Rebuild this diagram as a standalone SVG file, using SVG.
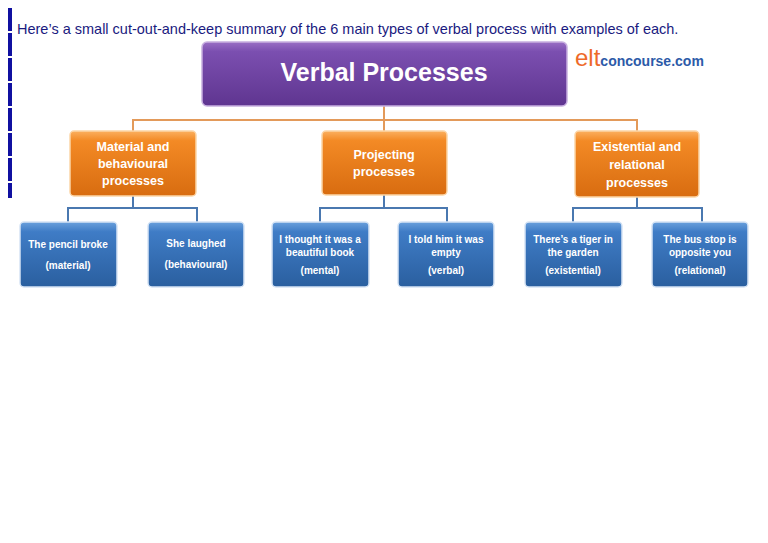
<svg xmlns="http://www.w3.org/2000/svg" width="768" height="543" viewBox="0 0 768 543">
<defs>
<linearGradient id="gp" x1="0" y1="0" x2="0" y2="1"><stop offset="0" stop-color="#9a6fc4"/><stop offset="0.15" stop-color="#7b4fb0"/><stop offset="1" stop-color="#5f3590"/></linearGradient>
<linearGradient id="go" x1="0" y1="0" x2="0" y2="1"><stop offset="0" stop-color="#fbb060"/><stop offset="0.15" stop-color="#f38a25"/><stop offset="1" stop-color="#d86c10"/></linearGradient>
<linearGradient id="gb" x1="0" y1="0" x2="0" y2="1"><stop offset="0" stop-color="#6aa0dc"/><stop offset="0.15" stop-color="#3f7cc6"/><stop offset="1" stop-color="#2a5f9f"/></linearGradient>
</defs>
<style>
text{font-family:"Liberation Sans Narrow","Liberation Sans",Arial,sans-serif;text-anchor:middle;fill:#fff;font-weight:bold}
.b{fill:url(#gb);stroke:#d6e4f5;stroke-width:1.5}
.o{fill:url(#go);stroke:#fcd6a8;stroke-width:1.5}
.bt{font-size:10px}
.ot{font-size:12.5px}
</style>
<rect width="768" height="543" fill="#fff"/>
<g id="bar" fill="#1010a0">
<rect x="8" y="8" width="4" height="23"/><rect x="8" y="33" width="4" height="23"/><rect x="8" y="58" width="4" height="23"/><rect x="8" y="83" width="4" height="23"/><rect x="8" y="108" width="4" height="23"/><rect x="8" y="133" width="4" height="23"/><rect x="8" y="158" width="4" height="23"/><rect x="8" y="183" width="4" height="15"/>
</g>
<text x="17" y="34" style="text-anchor:start;fill:#1a1a80;font-weight:normal;font-size:14.5px">Here’s a small cut-out-and-keep summary of the 6 main types of verbal process with examples of each.</text>
<g id="logo"><text x="575" y="66" style="text-anchor:start;font-weight:normal;font-size:24px;fill:#ee6a2a">elt<tspan style="font-size:14px;fill:#2c5aa8;font-weight:bold">concourse.com</tspan></text></g>
<g id="connectors" fill="none" stroke-width="2">
<path stroke="#e39a5a" d="M384 106V120M133 131V120H637V131M384 120V131"/>
<path stroke="#4a78b0" d="M133 196V208M68 222V208H197V222M384 195V208M320 222V208H447V222M637 197V208M573 222V208H702V222"/>
</g>
<g id="root"><rect x="202" y="42" width="365" height="64" rx="5" fill="url(#gp)" stroke="#c8b0e0" stroke-width="1.5"/><text x="384" y="81" style="font-size:25px">Verbal Processes</text></g>
<g id="material"><rect class="o" x="70" y="131" width="126" height="65" rx="4"/><text class="ot" x="133" y="151">Material and<tspan x="133" dy="17">behavioural</tspan><tspan x="133" dy="17">processes</tspan></text></g>
<g id="projecting"><rect class="o" x="322" y="131" width="125" height="64" rx="4"/><text class="ot" x="384" y="159">Projecting<tspan x="384" dy="17">processes</tspan></text></g>
<g id="existential"><rect class="o" x="575" y="131" width="124" height="66" rx="4"/><text class="ot" x="637" y="151">Existential and<tspan x="637" dy="18">relational</tspan><tspan x="637" dy="18">processes</tspan></text></g>
<g id="b1"><rect class="b" x="20" y="222" width="97" height="65" rx="4"/><text class="bt" x="68" y="248">The pencil broke<tspan x="68" dy="21">(material)</tspan></text></g>
<g id="b2"><rect class="b" x="148" y="222" width="96" height="65" rx="4"/><text class="bt" x="196" y="247">She laughed<tspan x="196" dy="21">(behavioural)</tspan></text></g>
<g id="b3"><rect class="b" x="272" y="222" width="97" height="65" rx="4"/><text class="bt" x="320" y="243">I thought it was a<tspan x="320" dy="13">beautiful book</tspan><tspan x="320" dy="18">(mental)</tspan></text></g>
<g id="b4"><rect class="b" x="398" y="222" width="96" height="65" rx="4"/><text class="bt" x="446" y="243">I told him it was<tspan x="446" dy="13">empty</tspan><tspan x="446" dy="18">(verbal)</tspan></text></g>
<g id="b5"><rect class="b" x="525" y="222" width="97" height="65" rx="4"/><text class="bt" x="573" y="243">There’s a tiger in<tspan x="573" dy="13">the garden</tspan><tspan x="573" dy="18">(existential)</tspan></text></g>
<g id="b6"><rect class="b" x="652" y="222" width="96" height="65" rx="4"/><text class="bt" x="700" y="243">The bus stop is<tspan x="700" dy="13">opposite you</tspan><tspan x="700" dy="18">(relational)</tspan></text></g>
</svg>
